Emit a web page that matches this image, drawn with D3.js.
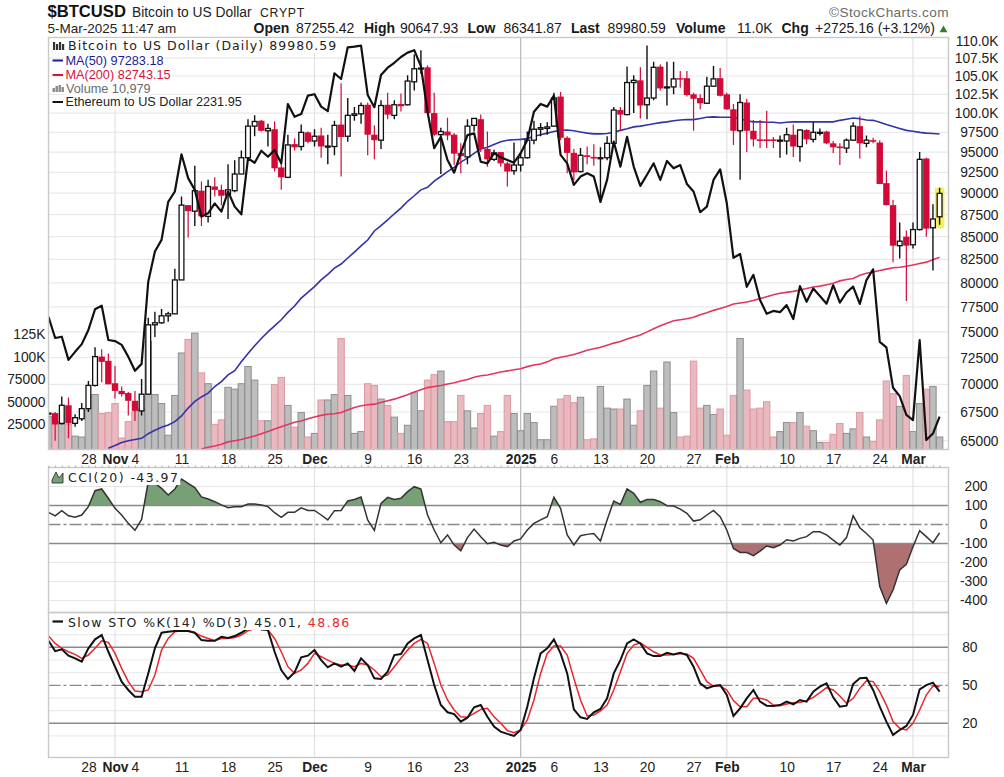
<!DOCTYPE html>
<html>
<head>
<meta charset="utf-8">
<script src="https://cdn.jsdelivr.net/npm/d3@7/dist/d3.min.js"></script>
<style>
html,body{margin:0;padding:0;background:#fff;}
svg{display:block;}
text{font-family:"Liberation Sans",Arial,sans-serif;fill:#222;}
</style>
</head>
<body>
<svg id="c" width="1004" height="777"></svg>
<script>
// ---- Data, one entry per calendar day from 22 Oct 2024 to 5 Mar 2025 (BTC in thousands of USD)
const openK = [67.4,67.4,66.5,68.1,66.5,66.9,67.8,69.9,72.6,72.2,
70.1,69.4,69.2,68.5,67.6,69.1,75.7,75.9,76.6,76.8,
80.3,88.6,87.9,90.3,87.3,90.8,90.4,89.8,90.3,92.3,
94.3,98.3,99,97.7,97.9,93.1,91.9,96,95.7,97.5,
96.4,97.1,95.7,95.7,98.5,97,99.7,99.9,101.1,97.2,
96.5,101.1,99.7,101.2,101.1,104.2,106,106.2,100,97.2,
97.6,97.2,94.9,94.4,98.4,99.2,95.4,94.1,95,93.6,
92.7,93.4,94.3,96.5,97.9,98,98.3,102.2,96.8,94.9,
92.6,94.6,94.4,94.2,94.3,96.1,100.4,99.8,104.1,104.4,
101.1,102,106.3,103.4,103.5,104.7,104.7,102.5,102,101.3,
103.6,104.7,102.5,100.5,97.7,101.4,97.7,96.6,96.6,96.6,
96.4,96.4,97.2,95.7,97.8,96.6,97.4,97.6,96.1,95.7,
95.5,96.5,98.3,96.1,96.5,96.2,91.2,88.6,84,85,
84.1,85.8,94.2,86,87.255];
const highK = [67.4,67.5,68.9,68.8,67.3,68.3,70.3,73.5,73.3,72.9,
71.7,69.8,69.3,69.4,70.5,76.4,77,77.3,77,81.5,
89.6,88.6,93.3,91.4,91.6,91.9,91,93.5,94,95.2,
99.2,99.7,99.1,98.6,98.9,93.8,97.2,96.7,98.5,97.6,
97.9,98.1,97.2,99,104,102,100.8,101.4,101.4,98.4,
101.7,102.7,101.7,102.6,105.1,108,108.6,106.5,102.7,98.1,
99.4,97.4,96.1,99.2,99.3,99.8,97.6,95.3,95,93.8,
96.2,95,97.6,99,98.7,98.8,102.7,102.8,97,95.4,
95.5,95.7,96,95.6,97,100.8,100.8,106.3,105.1,106.2,
109.3,107,106.6,107,107,105.7,105.7,102.7,102.5,104.9,
106.4,106.1,102.7,101.2,102.5,101.9,99.1,99.1,100.3,96.9,
97.1,98.1,98.5,97.9,97.9,98.8,98,97.7,96.4,96.1,
96.7,98.8,99.6,97.1,96.8,96.5,92.7,89.2,86.6,85.7,
86.6,95,94.3,88.7,90.648];
const lowK = [67.4,65,66.4,65.2,66.2,66.7,67.5,69.8,70.2,70,
68.7,68.9,67.2,66.7,67.2,69.1,74.5,75.8,76,76.8,
80.3,84.9,86.2,86.2,86.6,89.6,88.6,87,90.1,92.3,
94.2,97,97.6,95.7,92.6,90.4,91.8,95.2,95.2,96.1,
95.7,94.3,93.5,94.6,92,96.3,99,98.6,94.6,94.1,
95.4,99.2,99.2,100.2,101,103,105.3,99.9,97,92.3,
96.5,93.4,92.4,93.5,97.6,95,93.2,93.9,93.2,90.8,
92.2,92.6,94.2,96,97,97.2,98.2,96.5,92.4,91.5,
92.5,93.5,93.3,89.4,94,96,97.7,99.7,100,99.3,
99.2,101.7,103,101,102.5,103.4,102.2,97.7,100.5,101.2,
103.5,102.2,100.4,95.9,91.6,95,95.7,95.5,95.5,95.5,
94.3,94.7,94.4,93.8,96,96.2,97.1,96,94.9,93.4,
94.9,96.4,94.2,95.6,96.1,91.1,88.6,82.2,82.6,78.1,
83.7,85.7,85,81.3,86.342];
const closeK = [67.4,66.4,68.1,66.5,67,67.8,69.9,72.6,72.1,70,
69.4,69.1,68.5,67.6,69.1,75.7,75.9,76.6,76.8,80.3,
88.6,87.9,90.3,87.3,90.8,90.4,89.7,90.4,92.3,94.3,
98.3,98.9,97.7,98,93,91.9,95.9,95.6,97.5,96.3,
97,95.7,95.75,98.4,96.9,99.7,99.9,101,97.2,96.5,
101,99.8,101.1,100.9,104.3,106,106.1,100,97.2,97.6,
97.1,94.8,94.5,98.3,99.3,95.4,94.1,94.9,93.6,92.6,
93.4,94.3,96.5,97.9,98.1,98.2,102,96.8,94.9,92.5,
94.6,94.4,94.2,94.3,96.1,100.4,99.8,104.1,104.4,101,
102,106.2,103.3,103.5,104.6,104.5,102.4,101.9,101.3,103.6,
104.6,102.3,100.5,97.7,101.4,97.7,96.6,96.4,96.4,96.4,
96.5,97.2,95.7,97.8,96.6,97.5,97.5,96.1,95.6,95.5,
96.5,98.3,96.1,96.5,96.3,91.1,88.6,84,84.5,84,
85.8,94.1,85.9,87,89.98];
const volumeK = [34,28,25,25,12,11,41,58,37,38,
48,10,28,39,42,117,58,48,13,57,
104,119,126,82,70,25,30,66,64,70,
89,74,29,29,69,77,46,22,38,11,
15,52,52,58,120,57,15,17,70,68,
53,46,33,15,24,60,40,74,80,84,
28,28,57,40,21,37,46,12,17,57,
37,18,37,27,8,8,45,53,57,49,
55,8,9,67,43,42,42,53,24,40,
68,84,43,94,38,11,12,95,43,46,
36,42,13,57,120,63,42,43,50,11,
17,27,27,38,23,18,5,5,14,26,
15,20,38,11,6,30,73,59,45,79,
17,48,64,67,11];
const ethereum = [2609,2524,2529,2439,2470,2500,2556,2640,2655,2516,
2512,2497,2451,2398,2424,2756,2889,2942,3122,3173,
3363,3240,3181,3051,3067,3115,3075,3173,3099,3062,
3342,3319,3382,3350,3386,3316,3638,3566,3581,3686,
3694,3623,3598,3817,3783,3975,3979,3985,3690,3620,
3806,3850,3880,3915,3942,3957,3860,3594,3395,3456,
3333,3268,3369,3465,3475,3324,3316,3369,3347,3333,
3319,3369,3439,3594,3638,3623,3686,3360,3316,3206,
3248,3265,3248,3122,3231,3430,3299,3456,3299,3201,
3257,3316,3231,3328,3290,3307,3211,3173,3072,3099,
3231,3285,3115,2861,2878,2734,2786,2678,2621,2633,
2628,2657,2600,2737,2671,2727,2695,2663,2741,2667,
2710,2735,2662,2763,2810,2509,2487,2335,2305,2238,
2220,2516,2152,2174,2232];
const ma50 = [null,null,null,null,null,null,null,null,null,64.35,
64.6,64.85,65,65.1,65.2,65.6,65.9,66.15,66.35,66.65,
67.15,67.85,68.45,68.85,69.2,69.8,70.25,70.87,71.27,72.1,
72.9,73.65,74.35,75,75.6,76.2,76.95,77.6,78.4,79,
79.6,80.3,80.9,81.55,82,82.65,83.3,83.97,84.63,85.64,
86.25,86.9,87.6,88.25,89.05,89.7,90.4,90.7,91.45,92,
92.6,93.1,93.75,94.25,94.85,95.4,95.6,95.95,96.3,96.5,
96.55,96.6,96.7,97,97.2,97.4,97.6,97.75,97.8,97.7,
97.55,97.4,97.3,97.3,97.35,97.5,97.75,97.95,98.2,98.3,
98.45,98.6,98.75,98.85,99,99.1,99.15,99.15,99.3,99.45,
99.5,99.45,99.45,99.45,99.25,99,98.85,98.85,98.8,98.8,
98.7,98.8,98.85,98.85,98.85,98.85,98.85,98.85,98.85,99.05,
99.2,99.35,99.25,99.1,99.05,98.8,98.5,98.25,98,97.75,
97.65,97.5,97.4,97.35,97.28];
const ma200 = [null,null,null,null,null,null,null,null,null,null,
null,null,null,null,null,null,null,null,null,null,
null,null,null,64.3,64.45,64.55,64.7,64.9,65,65.1,
65.25,65.4,65.6,65.8,66,66.2,66.4,66.6,66.7,66.9,
67.05,67.2,67.3,67.35,67.45,67.68,67.9,68.05,68.15,68.2,
68.35,68.5,68.65,68.85,69.05,69.3,69.5,69.7,69.8,69.9,
70.03,70.15,70.3,70.45,70.65,70.8,70.87,71,71.15,71.25,
71.35,71.45,71.65,71.8,71.9,72.1,72.4,72.53,72.65,72.8,
73,73.2,73.35,73.5,73.7,73.9,74.05,74.3,74.5,74.7,
75,75.3,75.6,75.85,76.1,76.2,76.3,76.45,76.7,76.9,
77.15,77.35,77.55,77.8,77.9,78,78.15,78.35,78.55,78.75,
78.9,79,79.1,79.25,79.4,79.55,79.65,79.8,79.95,80.2,
80.35,80.45,80.8,81,81.15,81.3,81.45,81.6,81.65,81.75,
81.9,82.05,82.2,82.45,82.74];
const cci = [64,45,73,46,38,50,94,178,187,138,
85,50,6,-31,27,225,217,190,155,187,
239,217,194,145,134,120,103,88,94,94,
108,108,103,94,62,38,64,64,88,74,
74,50,24,73,74,124,132,145,24,-31,
111,143,132,138,173,199,187,50,-29,-96,
-55,-108,-138,-69,-24,-64,-101,-94,-108,-117,
-87,-76,-29,6,24,41,143,85,-55,-108,
-59,-52,-47,-87,24,124,106,187,164,117,
131,131,120,99,97,81,59,18,25,50,
74,41,-29,-126,-147,-148,-164,-140,-113,-122,
-108,-80,-87,-73,-64,-38,-38,-55,-82,-108,
-69,46,-17,-47,-82,-327,-415,-345,-239,-210,
-117,-33,-64,-96,-44];
const stoK = [85.2,77,78.4,73.4,71.3,68.6,79.2,86.3,89.7,76.5,
64.7,52.9,46.3,41,41,59.4,79.2,91.5,92.3,92.8,
93.1,92.8,91.5,85.7,85.2,85.2,88.4,87.3,88.9,91.5,
94.9,97.6,94.1,93.6,76.5,62.1,55,60.2,72.1,73.4,
77.8,69.9,64.2,67.3,64.7,67.3,61.3,71.3,66,55.5,
55,60.7,73.9,74.7,83.1,87.1,89.7,69.9,50.2,34.4,
28.7,27.3,21.3,24.4,32.6,34.4,25.2,17.4,13.4,11.6,
10,14.7,33.1,55.5,75.2,79.2,86.3,75.2,59.4,31,
24.7,23.4,28.7,31.3,39.7,59.4,69.9,83.1,86.3,83.1,
75.2,73.1,73.1,75.7,74.4,75.7,73.9,64.7,51.5,47.6,
49.4,50.2,42.3,25.8,31.8,39.7,46.3,37.1,33.9,33.7,
34.4,37.1,35,38.4,37.1,45,48.9,51.5,40.5,33.1,
33.9,51,55.5,56,46.3,33.1,21.3,10.8,14.7,17.9,
26.6,46.8,50.2,52.1,45];
const stoD = [88.9,83.1,79.2,76.5,74.4,71.3,73.9,79.2,85.2,83.9,
75.2,63.4,52.9,45.5,45,46.3,58.1,77.8,87,92.3,
93.1,92.8,91.5,88.9,87,85.2,87,87,87.8,89.7,
93.1,94.9,96.2,93.6,87,76.5,64.7,59.4,62.1,67.3,
75.2,72.6,69.9,67.3,66,66,64.7,67.3,66,62.1,
56.8,58.1,64.7,71.3,77.8,83.1,86.3,83.1,67.3,50.2,
38.4,30.5,25.2,24.7,27.9,31,31.8,25.2,20,14.2,
12.6,14.7,22.6,38.4,59.4,75.2,81,81,73.9,55.5,
38.4,25.8,26.6,29.7,34.4,46.3,60.7,75.2,81.8,83.6,
80,76.5,73.9,73.9,74.4,75.2,74.7,71.3,62.1,52.9,
49.4,49.4,46.3,37.9,33.1,33.1,39.7,39.7,38.4,34.4,
33.9,35.2,36.3,36.5,37.9,40.5,44.2,48.1,46.3,41.5,
35.8,39.7,47.6,53.6,52.9,45,34.4,21.3,16,14.7,
20,30.5,42.3,49.4,48.86];

const priceTicks = [65,67.5,70,72.5,75,77.5,80,82.5,85,87.5,90,92.5,95,97.5,100,102.5,105,107.5,110];
const priceTickLabels = ["65000","67500","70000","72500","75000","77500","80000","82500","85000","87500","90000","92500","95000","97500","100.0K","102.5K","105.0K","107.5K","110.0K"];
const volumeTicks = [25,50,75,100,125];
const volumeTickLabels = ["25000","50000","75000","100K","125K"];
const cciTicks = [200,100,0,-100,-200,-300,-400];
const stoGrid = [10,20,30,40,50,60,70,80,90];
const stoTicks = [20,50,80];
const dateTicks = ["2024-10-28","2024-11-01","2024-11-04","2024-11-11","2024-11-18","2024-11-25","2024-12-01","2024-12-09","2024-12-16","2024-12-23","2025-01-01","2025-01-06","2025-01-13","2025-01-20","2025-01-27","2025-02-01","2025-02-10","2025-02-17","2025-02-24","2025-03-01"];
const dateTickLabels = ["28","Nov","4","11","18","25","Dec","9","16","23","2025","6","13","20","27","Feb","10","17","24","Mar"];
const boldTicks = ["Nov","Dec","2025","Feb","Mar"];
const monthLines = ["2024-11-01","2024-12-01","2025-01-01","2025-02-01","2025-03-01"];

// ---- Layout
const L = 48.5, R = 948.5;
const P1 = {top:37.5, bottom:449.5}, P2 = {top:467.5, bottom:612.5}, P3 = {top:612.5, bottom:757.5};
const RED = "#d20a38";

const parse = d3.utcParse("%Y-%m-%d");
const firstDay = parse("2024-10-22"), lastDay = parse("2025-03-05");
const days = d3.utcDay.range(firstDay, d3.utcDay.offset(lastDay, 1));
const x = d3.scaleUtc().domain([firstDay, lastDay]).range([48.5, 939.6]);
const yP = d3.scaleLog().domain([65, 110]).range([440.7, 40.6]);
const yV = d3.scaleLinear().domain([-2.8, 125]).range([449.5, 334]);
const yE = d3.scaleLog().domain([2231.95, 3983]).range([416.7, 46]);
const yC = d3.scaleLinear().domain([-400, 200]).range([600.5, 486.5]);
const yS = d3.scaleLinear().domain([0, 100]).range([748.6, 622]);

const rows = days.map((d, i) => ({d, i, o:openK[i], h:highK[i], l:lowK[i], c:closeK[i], v:volumeK[i],
  e:ethereum[i], m50:ma50[i], m200:ma200[i], cci:cci[i], k:stoK[i], dd:stoD[i]}));

const svg = d3.select("#c");
const defs = svg.append("defs");
function clip(id, x0, y0, x1, y1){
  defs.append("clipPath").attr("id", id).append("rect").attr("x", x0).attr("y", y0).attr("width", x1 - x0).attr("height", y1 - y0);
}
clip("p1", L, P1.top, R, P1.bottom);
clip("p2", L, P2.top, R, P2.bottom);
clip("p3", L, P3.top, R, P3.bottom);
clip("cciUp", L, P2.top, R, yC(100));
clip("cciDn", L, yC(-100), R, P2.bottom);

// Horizontal grids
function hgrid(vals, scale, color, w){
  svg.append("g").selectAll("line").data(vals).join("line")
    .attr("x1", L).attr("x2", R).attr("y1", d => scale(d)).attr("y2", d => scale(d))
    .attr("stroke", color).attr("stroke-width", w || 1.2);
}
hgrid(priceTicks.filter(t => t < 110), yP, "#e9e9e9");
hgrid(cciTicks.filter(t => Math.abs(t) > 100), yC, "#e6e6e6");
hgrid(stoGrid.filter(t => !stoTicks.includes(t)), yS, "#ececec");

// Vertical month lines
[[P1.top,P1.bottom],[P2.top,P2.bottom],[P3.top,P3.bottom]].forEach(([a,b]) => {
  svg.append("g").selectAll("line").data(monthLines).join("line")
    .attr("x1", d => x(parse(d))).attr("x2", d => x(parse(d))).attr("y1", a).attr("y2", b)
    .attr("stroke", d => d === "2025-01-01" ? "#b9b9b9" : "#e2e2e2").attr("stroke-width", 1.2);
});

// Volume
const vw = 6.4;
const gv = svg.append("g").attr("clip-path", "url(#p1)");
gv.selectAll("rect").data(rows).join("rect")
  .attr("x", d => x(d.d) - vw/2).attr("width", vw)
  .attr("y", d => yV(d.v)).attr("height", d => P1.bottom - yV(d.v))
  .attr("fill", d => d.c < d.o ? "#e8b9bf" : "#bdbdbd")
  .attr("stroke", d => d.c < d.o ? "#dd98a3" : "#8e8e8e").attr("stroke-width", 1);

// Moving averages
const lineOf = (key, y) => d3.line().defined(d => d[key] !== null && d[key] !== undefined).x(d => x(d.d)).y(d => y(d[key]));
const gm = svg.append("g").attr("clip-path", "url(#p1)");
gm.append("path").datum(rows).attr("d", lineOf("m200", yP)).attr("fill", "none").attr("stroke", "#e23661").attr("stroke-width", 1.6);
gm.append("path").datum(rows).attr("d", lineOf("m50", yP)).attr("fill", "none").attr("stroke", "#3333a8").attr("stroke-width", 1.6);

// Highlight of the latest bar
const lastRow = rows[rows.length - 1];
gm.append("rect").attr("x", x(lastRow.d) - 4.8).attr("width", 9.6)
  .attr("y", yP(lastRow.h) - 0.3).attr("height", yP(lastRow.l) - yP(lastRow.h) + 3.8)
  .attr("fill", "#f8ee63");

// Candles
const gc = svg.append("g").attr("clip-path", "url(#p1)");
const candle = gc.selectAll("g").data(rows).join("g");
candle.append("line").attr("x1", d => x(d.d)).attr("x2", d => x(d.d))
  .attr("y1", d => yP(d.h)).attr("y2", d => yP(d.l))
  .attr("stroke", d => d.c < d.o ? RED : "#111").attr("stroke-width", d => d.c < d.o ? 1.2 : 1.4);
candle.append("rect")
  .attr("x", d => x(d.d) - (d.c < d.o ? 3.2 : 2.4))
  .attr("width", d => d.c < d.o ? 6.4 : 4.8)
  .attr("y", d => yP(Math.max(d.o, d.c)))
  .attr("height", d => Math.max(yP(Math.min(d.o, d.c)) - yP(Math.max(d.o, d.c)), 1))
  .attr("fill", d => d.c < d.o ? RED : "#fff")
  .attr("stroke", d => d.c < d.o ? "none" : "#111").attr("stroke-width", 1.3);

// Ethereum overlay
svg.append("g").attr("clip-path", "url(#p1)").append("path").datum(rows)
  .attr("d", lineOf("e", yE)).attr("fill", "none").attr("stroke", "#111").attr("stroke-width", 2.2).attr("stroke-linejoin", "round");

// CCI pane
const gC = svg.append("g");
const cciArea = d3.area().x(d => x(d.d)).y1(d => yC(d.cci));
gC.append("path").datum(rows).attr("clip-path", "url(#cciUp)").attr("fill", "#77a077")
  .attr("d", cciArea.y0(yC(100))(rows));
gC.append("path").datum(rows).attr("clip-path", "url(#cciDn)").attr("fill", "#ae7070")
  .attr("d", cciArea.y0(yC(-100))(rows));
[100, -100].forEach(v => gC.append("line").attr("x1", L).attr("x2", R).attr("y1", yC(v)).attr("y2", yC(v)).attr("stroke", "#8a8a8a").attr("stroke-width", 1.4));
gC.append("line").attr("x1", L).attr("x2", R).attr("y1", yC(0)).attr("y2", yC(0)).attr("stroke", "#8a8a8a").attr("stroke-width", 1.3).attr("stroke-dasharray", "12,3,3,3");
gC.append("path").datum(rows).attr("clip-path", "url(#p2)").attr("d", lineOf("cci", yC)).attr("fill", "none").attr("stroke", "#333").attr("stroke-width", 1.5);

// Stochastic pane
const gS = svg.append("g");
[80, 20].forEach(v => gS.append("line").attr("x1", L).attr("x2", R).attr("y1", yS(v)).attr("y2", yS(v)).attr("stroke", "#8a8a8a").attr("stroke-width", 1.4));
gS.append("line").attr("x1", L).attr("x2", R).attr("y1", yS(50)).attr("y2", yS(50)).attr("stroke", "#8a8a8a").attr("stroke-width", 1.3).attr("stroke-dasharray", "12,3,3,3");
gS.append("path").datum(rows).attr("clip-path", "url(#p3)").attr("d", lineOf("dd", yS)).attr("fill", "none").attr("stroke", "#e8262c").attr("stroke-width", 1.5);
gS.append("path").datum(rows).attr("clip-path", "url(#p3)").attr("d", lineOf("k", yS)).attr("fill", "none").attr("stroke", "#111").attr("stroke-width", 2);

// Pane borders
[P1, P2, P3].forEach(p => svg.append("rect").attr("x", L).attr("y", p.top).attr("width", R - L).attr("height", p.bottom - p.top)
  .attr("fill", "none").attr("stroke", "#c9c9c9").attr("stroke-width", 1.4));

// Axes
function styleAxis(g, anchor, tx, size){
  g.select(".domain").remove();
  g.selectAll(".tick line").remove();
  g.selectAll(".tick text").attr("x", tx).attr("text-anchor", anchor)
    .attr("font-family", '"Liberation Sans",Arial,sans-serif').attr("font-size", size).attr("fill", "#333");
}
const priceFmt = d => priceTickLabels[priceTicks.indexOf(d)];
svg.append("g").attr("transform", `translate(${R},0)`)
  .call(d3.axisRight(yP).tickValues(priceTicks).tickFormat(priceFmt))
  .call(g => styleAxis(g, "end", 50, 13.8));
svg.append("g").attr("transform", `translate(${L},0)`)
  .call(d3.axisLeft(yV).tickValues(volumeTicks).tickFormat(d => volumeTickLabels[volumeTicks.indexOf(d)]))
  .call(g => styleAxis(g, "end", -3, 13.8));
svg.append("g").attr("transform", `translate(${R},0)`)
  .call(d3.axisRight(yC).tickValues(cciTicks).tickFormat(d => d))
  .call(g => styleAxis(g, "end", 39, 13.8));
svg.append("g").attr("transform", `translate(${R},0)`)
  .call(d3.axisRight(yS).tickValues(stoTicks).tickFormat(d => d))
  .call(g => styleAxis(g, "end", 29, 13.8));

const dateAxis = d3.axisBottom(x).tickValues(dateTicks.map(parse))
  .tickFormat(d => dateTickLabels[dateTicks.indexOf(d3.utcFormat("%Y-%m-%d")(d))]);
[[P1.bottom, 5], [P3.bottom, 4.5]].forEach(([yy, off]) => {
  const g = svg.append("g").attr("transform", `translate(0,${yy})`).call(dateAxis);
  g.select(".domain").remove();
  g.selectAll(".tick line").remove();
  g.selectAll(".tick text").attr("y", off).attr("dy", "0.71em")
    .attr("font-family", '"Liberation Sans",Arial,sans-serif')
    .attr("font-size", 13.8).attr("fill", "#222")
    .attr("font-weight", function(){ return boldTicks.includes(this.textContent) ? "bold" : "normal"; });
});

// Small daily ticks around the gap under the date row
const tickAxis = d3.axisTop(x).tickValues(days).tickFormat("").tickSize(2);
const ta = svg.append("g").attr("transform", `translate(0,${P2.top})`).call(tickAxis);
ta.select(".domain").remove();
ta.selectAll("line").attr("stroke", "#aaa");

// Legends with white backing
function backed(g, node){
  const b = node.getBBox();
  g.insert("rect", ":first-child").attr("x", b.x - 1).attr("y", b.y).attr("width", b.width + 2).attr("height", b.height).attr("fill", "#fff");
}
function label(x0, y0, txt, opt){
  opt = opt || {};
  const g = svg.append("g");
  const t = g.append("text").attr("x", x0).attr("y", y0).text(txt)
    .attr("font-size", opt.size || 12.7)
    .style("font-family", opt.family || '"Liberation Sans",Arial,sans-serif')
    .style("fill", opt.fill || "#222");
  if (opt.spacing) t.attr("letter-spacing", opt.spacing);
  if (opt.weight) t.attr("font-weight", opt.weight);
  if (opt.back !== false) backed(g, t.node());
  return t;
}
const dj = '"DejaVu Sans",sans-serif';
label(68, 50, "Bitcoin to US Dollar (Daily) 89980.59", {family:dj, size:12.5, fill:"#222", spacing:1.05});
label(65.5, 64.5, "MA(50) 97283.18", {fill:"#1c1c96"});
label(65.5, 79.3, "MA(200) 82743.15", {fill:"#d6123f"});
label(66, 92.7, "Volume 10,979", {fill:"#6a6a6a"});
label(65.5, 106.2, "Ethereum to US Dollar 2231.95", {fill:"#222"});
[[60.5,"#1c1c96"],[75,"#d6123f"],[102,"#111"]].forEach(([yy,c]) =>
  svg.append("line").attr("x1",52.5).attr("x2",63).attr("y1",yy).attr("y2",yy).attr("stroke",c).attr("stroke-width",2));
// little legend glyphs
[[53,42,8],[56,44,6],[59,42,8],[62,44,6]].forEach(([a,b,h]) =>
  svg.append("rect").attr("x",a).attr("y",b).attr("width",2.2).attr("height",h).attr("fill","#333"));
[[52.5,88,4],[55.5,86,6],[58.5,85,7],[61.5,87,5]].forEach(([a,b,h]) =>
  svg.append("rect").attr("x",a).attr("y",b).attr("width",2.4).attr("height",h).attr("fill","#8a8a8a"));

label(68, 482, "CCI(20) -43.97", {family:dj, size:12.5, spacing:1.45});
svg.append("path").attr("d", "M52 483 L52 480 L56 472 L59 478 L63 473 L63 483 Z").attr("fill", "#77a077").attr("stroke","#222").attr("stroke-width",0.8);

const stoG = svg.append("g");
const stoT = stoG.append("text").attr("x", 68).attr("y", 627).attr("font-size", 12.5).attr("letter-spacing", 1.4).style("font-family", dj);
stoT.append("tspan").text("Slow STO %K(14) %D(3) 45.01, ").style("fill", "#222");
stoT.append("tspan").text("48.86").style("fill", "#e8262c");
backed(stoG, stoT.node());
svg.append("line").attr("x1",52.5).attr("x2",63).attr("y1",621.5).attr("y2",621.5).attr("stroke","#111").attr("stroke-width",2.2);

// Header
label(47.5, 17, "$BTCUSD", {weight:"bold", size:16.6, fill:"#111", back:false});
label(132, 16.5, "Bitcoin to US Dollar", {size:13.8, back:false});
label(260, 16.5, "CRYPT", {size:12.3, spacing:0.7, back:false});
label(47.5, 33, "5-Mar-2025 11:47 am", {size:13.5, back:false});
const hdr = [["Open",253.5,true],["87255.42",296,false],["High",364,true],["90647.93",400,false],["Low",467.5,true],["86341.87",503.5,false],["Last",571,true],["89980.59",607.5,false],["Volume",676,true],["11.0K",737,false],["Chg",781.5,true],["+2725.16 (+3.12%)",815,false]];
hdr.forEach(([t, xx, b]) => label(xx, 33, t, {size:14, weight:b ? "bold" : null, back:false, fill:"#1a1a1a"}));
svg.append("path").attr("d", d3.symbol().type(d3.symbolTriangle).size(26)()).attr("transform", "translate(943.5,30)").attr("fill", "#2e7d32");
label(829, 17, "©StockCharts.com", {size:13.6, fill:"#6b6b6b", spacing:0.4, back:false});
</script>
</body>
</html>
